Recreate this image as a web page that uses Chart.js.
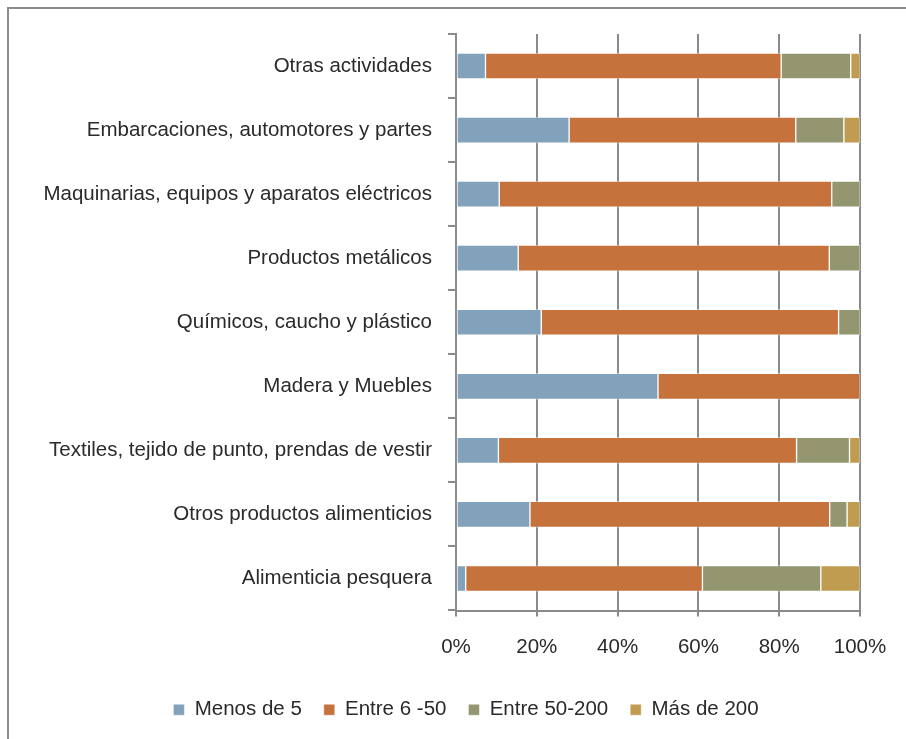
<!DOCTYPE html>
<html>
<head>
<meta charset="utf-8">
<script src="https://cdn.jsdelivr.net/npm/chart.js@4"></script>
<style>
  html, body { margin: 0; padding: 0; background: #fff; }
  #wrap { position: relative; width: 906px; height: 739px; overflow: hidden; }
  #frame { position: absolute; left: 7px; top: 7px; right: -10px; bottom: -10px; border-left: 2px solid #8c8c8c; border-top: 2px solid #8c8c8c; }
  canvas { position: absolute; left: 0; top: 0; }
</style>
</head>
<body>
<div id="wrap">
  <div id="frame"></div>
  <canvas id="chart" width="906" height="739"></canvas>
</div>
<script>
  const categories = [
    'Otras actividades',
    'Embarcaciones, automotores y partes',
    'Maquinarias, equipos y aparatos eléctricos',
    'Productos metálicos',
    'Químicos, caucho y plástico',
    'Madera y Muebles',
    'Textiles, tejido de punto, prendas de vestir',
    'Otros productos alimenticios',
    'Alimenticia pesquera'
  ];
  const menosDe5 = [7.3, 28.0, 10.7, 15.4, 21.1, 50.0, 10.5, 18.3, 2.4];
  const entre6y50 = [73.2, 56.1, 82.3, 77.0, 73.6, 50.0, 73.8, 74.2, 58.6];
  const entre50y200 = [17.2, 11.9, 7.0, 7.6, 5.3, 0, 13.1, 4.3, 29.3];
  const masDe200 = [2.3, 4.0, 0, 0, 0, 0, 2.6, 3.2, 9.7];
  const xTicks = [0, 20, 40, 60, 80, 100];

  const font = { family: "'Liberation Sans', Arial, sans-serif", size: 20.5 };
  const textColor = '#2a2a2a';
  const axisGray = '#8a8a8a';
  const padLeft = 10;

  const series = (label, data, color) => ({
    label, data,
    backgroundColor: color,
    borderColor: 'rgba(255,255,255,0.45)',
    borderWidth: 1,
    borderSkipped: false,
    barThickness: 26
  });

  // the legend sits a little right of the canvas centre in the original
  const shiftLegend = {
    id: 'shiftLegend',
    afterLayout(chart) {
      chart.legend.left += 31;
      chart.legend.right += 31;
    }
  };

  new Chart(document.getElementById('chart'), {
    type: 'bar',
    data: {
      labels: categories,
      datasets: [
        series('Menos de 5', menosDe5, '#82a2bc'),
        series('Entre 6 -50', entre6y50, '#c5723d'),
        series('Entre 50-200', entre50y200, '#93966f'),
        series('Más de 200', masDe200, '#c09c50')
      ]
    },
    plugins: [shiftLegend],
    options: {
      indexAxis: 'y',
      responsive: false,
      animation: false,
      layout: { padding: { left: padLeft, right: 46, top: 34, bottom: 9 } },
      plugins: {
        tooltip: { enabled: false },
        legend: {
          position: 'bottom',
          labels: {
            font, color: textColor,
            boxWidth: 11, boxHeight: 11,
            padding: 22
          }
        }
      },
      scales: {
        x: {
          stacked: true,
          min: 0, max: 100,
          afterBuildTicks: (s) => { s.ticks = xTicks.map(v => ({ value: v })); },
          afterFit: (s) => { s.height = 67; },
          ticks: { font, color: textColor, padding: 19, callback: v => v + '%' },
          grid: { color: axisGray, lineWidth: 2, tickLength: 6 },
          border: { color: axisGray, width: 2 }
        },
        y: {
          stacked: true,
          afterFit: (s) => { s.width = 456 - padLeft; },
          ticks: { font, color: textColor, padding: 16 },
          grid: { color: axisGray, lineWidth: 2, tickLength: 8, drawOnChartArea: false, offset: true },
          border: { color: axisGray, width: 2 }
        }
      }
    }
  });
</script>
</body>
</html>
